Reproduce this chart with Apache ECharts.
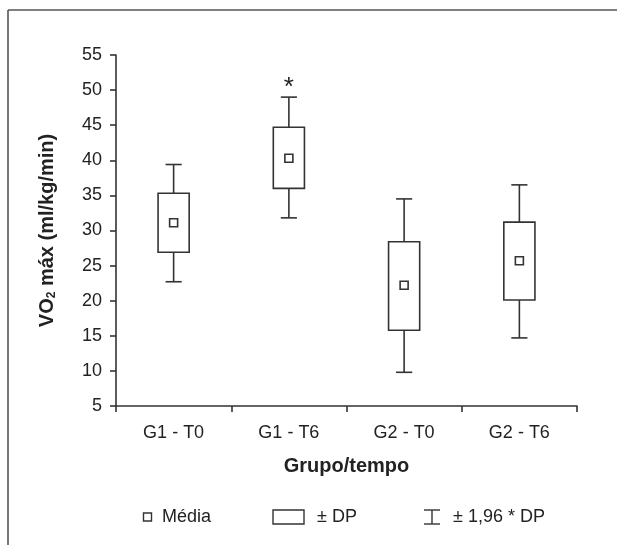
<!DOCTYPE html>
<html>
<head>
<meta charset="utf-8">
<script src="https://cdn.jsdelivr.net/npm/echarts@6/dist/echarts.min.js"></script>
<style>
html,body{margin:0;padding:0;background:#fff;}
#chart{width:617px;height:545px;}
</style>
</head>
<body>
<div id="chart"></div>
<script>
const categories = ['G1 - T0', 'G1 - T6', 'G2 - T0', 'G2 - T6'];
const whiskerLow = [22.7, 31.8, 9.8, 14.7];
const boxLow = [26.9, 36.0, 15.8, 20.1];
const means = [31.1, 40.3, 22.2, 25.7];
const boxHigh = [35.3, 44.7, 28.4, 31.2];
const whiskerHigh = [39.4, 49.0, 34.5, 36.5];
const significance = ['', '*', '', ''];
const yMin = 5, yMax = 55, yStep = 5;

const FONT = '"Liberation Sans Narrow", "Liberation Sans", Arial, sans-serif';
const INK = '#333333';
const TXT = '#222222';

const boxData = categories.map((c, i) => [i, whiskerLow[i], boxLow[i], means[i], boxHigh[i], whiskerHigh[i]]);

const chart = echarts.init(document.getElementById('chart'), null, { renderer: 'canvas' });

function renderBox(params, api) {
  const x = api.value(0);
  const band = api.size([1, 0])[0];
  const bw = band * 0.27;
  const cw = band * 0.14;
  const pLo = api.coord([x, api.value(1)]);
  const pQ1 = api.coord([x, api.value(2)]);
  const pM = api.coord([x, api.value(3)]);
  const pQ3 = api.coord([x, api.value(4)]);
  const pHi = api.coord([x, api.value(5)]);
  const cx = pM[0];
  const st = { stroke: INK, lineWidth: 1.6, fill: null };
  const sq = 8;
  const children = [
    { type: 'line', shape: { x1: cx, y1: pLo[1], x2: cx, y2: pQ1[1] }, style: st },
    { type: 'line', shape: { x1: cx, y1: pQ3[1], x2: cx, y2: pHi[1] }, style: st },
    { type: 'line', shape: { x1: cx - cw / 2, y1: pLo[1], x2: cx + cw / 2, y2: pLo[1] }, style: st },
    { type: 'line', shape: { x1: cx - cw / 2, y1: pHi[1], x2: cx + cw / 2, y2: pHi[1] }, style: st },
    { type: 'rect', shape: { x: cx - bw / 2, y: pQ3[1], width: bw, height: pQ1[1] - pQ3[1] }, style: { stroke: INK, lineWidth: 1.6, fill: '#fff' } },
    { type: 'rect', shape: { x: cx - sq / 2, y: pM[1] - sq / 2, width: sq, height: sq }, style: { stroke: INK, lineWidth: 1.6, fill: '#fff' } }
  ];
  const mark = significance[params.dataIndex];
  if (mark) {
    children.push({
      type: 'text',
      x: cx, y: pHi[1] - 9,
      style: { text: mark, fontFamily: FONT, fontSize: 26, fill: TXT, align: 'center', verticalAlign: 'middle' }
    });
  }
  return { type: 'group', children };
}

const legendY = 517;
const option = {
  backgroundColor: '#fff',
  animation: false,
  grid: { left: 116, right: 40, top: 55, bottom: 139, containLabel: false },
  xAxis: {
    type: 'category',
    data: categories,
    boundaryGap: true,
    name: 'Grupo/tempo',
    nameLocation: 'middle',
    nameGap: 50,
    nameTextStyle: { fontFamily: FONT, fontSize: 20, fontWeight: 'bold', color: TXT },
    axisLine: { lineStyle: { color: INK, width: 1.6 } },
    axisTick: { show: true, length: 6, alignWithLabel: false, lineStyle: { color: INK, width: 1.6 } },
    axisLabel: { fontFamily: FONT, fontSize: 18, color: TXT, margin: 18 },
    splitLine: { show: false }
  },
  yAxis: {
    type: 'value',
    min: yMin, max: yMax, interval: yStep,
    name: '{a|VO}{s|2}{a| máx (ml/kg/min)}',
    nameLocation: 'middle',
    nameGap: 58,
    nameRotate: 90,
    nameTextStyle: {
      rich: {
        a: { fontFamily: FONT, fontSize: 20, fontWeight: 'bold', color: TXT },
        s: { fontFamily: FONT, fontSize: 12, fontWeight: 'bold', color: TXT, verticalAlign: 'bottom', padding: [9, 0, 0, 0] }
      }
    },
    axisLine: { show: true, lineStyle: { color: INK, width: 1.6 } },
    axisTick: { show: true, length: 6, lineStyle: { color: INK, width: 1.6 } },
    axisLabel: { fontFamily: FONT, fontSize: 18, color: TXT, margin: 14 },
    splitLine: { show: false }
  },
  series: [
    {
      type: 'custom',
      renderItem: renderBox,
      data: boxData,
      encode: { x: 0, y: [1, 2, 3, 4, 5] },
      z: 3
    }
  ],
  graphic: [
    { type: 'line', shape: { x1: 8, y1: 10, x2: 617, y2: 10 }, style: { stroke: '#555', lineWidth: 1.6 } },
    { type: 'line', shape: { x1: 8, y1: 10, x2: 8, y2: 545 }, style: { stroke: '#555', lineWidth: 1.6 } },
    { type: 'rect', shape: { x: 143.5, y: legendY - 4, width: 8, height: 8 }, style: { stroke: INK, lineWidth: 1.4, fill: '#fff' } },
    { type: 'text', x: 162, y: legendY, style: { text: 'Média', fontFamily: FONT, fontSize: 18, fill: TXT, verticalAlign: 'middle' } },
    { type: 'rect', shape: { x: 273, y: legendY - 7, width: 31, height: 14 }, style: { stroke: INK, lineWidth: 1.4, fill: '#fff' } },
    { type: 'text', x: 317, y: legendY, style: { text: '± DP', fontFamily: FONT, fontSize: 18, fill: TXT, verticalAlign: 'middle' } },
    { type: 'line', shape: { x1: 424, y1: legendY - 7, x2: 440, y2: legendY - 7 }, style: { stroke: INK, lineWidth: 1.4 } },
    { type: 'line', shape: { x1: 424, y1: legendY + 7, x2: 440, y2: legendY + 7 }, style: { stroke: INK, lineWidth: 1.4 } },
    { type: 'line', shape: { x1: 432, y1: legendY - 7, x2: 432, y2: legendY + 7 }, style: { stroke: INK, lineWidth: 1.4 } },
    { type: 'text', x: 453, y: legendY, style: { text: '± 1,96 * DP', fontFamily: FONT, fontSize: 18, fill: TXT, verticalAlign: 'middle' } }
  ]
};
chart.setOption(option);
</script>
</body>
</html>
